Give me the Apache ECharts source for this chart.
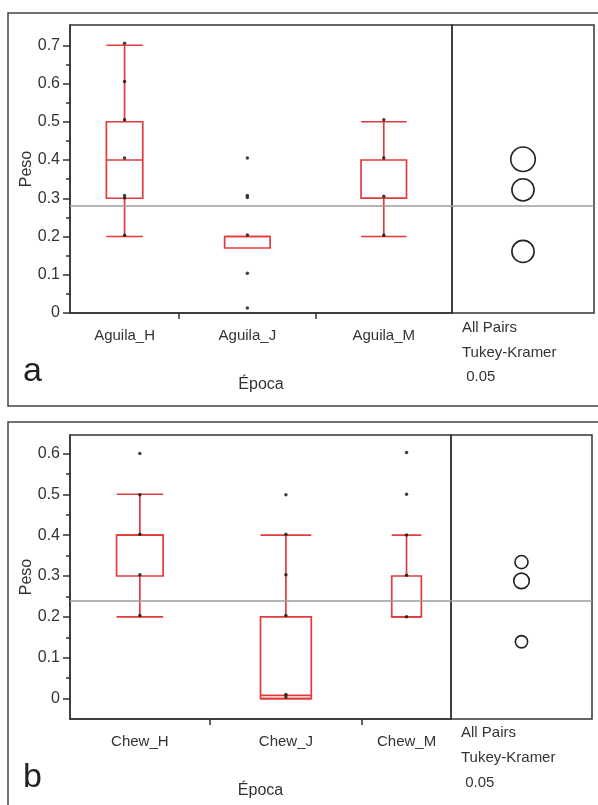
<!DOCTYPE html>
<html><head><meta charset="utf-8">
<script src="https://cdn.jsdelivr.net/npm/echarts@6/dist/echarts.min.js"></script>
<style>html,body{margin:0;padding:0;background:#fff}#c{width:598px;height:805px}</style>
</head><body><div id="c"></div>
<script>
// ---------- Panel a ----------
const catsA = ['Aguila_H', 'Aguila_J', 'Aguila_M'];
const nA = [8, 10, 10];                       // group sizes (JMP proportional x axis)
// [low whisker, Q1, median, Q3, high whisker]
const boxA = [
  [0.2, 0.3, 0.4, 0.5, 0.7],
  [0.17, 0.17, 0.2, 0.2, 0.2],
  [0.2, 0.3, 0.3, 0.4, 0.5]
];
const ptsA = [
  [0.705, 0.605, 0.505, 0.405, 0.307, 0.301, 0.203],
  [0.405, 0.307, 0.302, 0.204, 0.104, 0.013],
  [0.505, 0.405, 0.305, 0.203]
];
const meansA = [0.402, 0.161, 0.322];
const radiiA = [0.032, 0.029, 0.029];
const grandMeanA = 0.285;
const yTicksA = [0, 0.1, 0.2, 0.3, 0.4, 0.5, 0.6, 0.7];
const yMinorA = [0.05, 0.15, 0.25, 0.35, 0.45, 0.55, 0.65];

// ---------- Panel b ----------
const catsB = ['Chew_H', 'Chew_J', 'Chew_M'];
const nB = [11, 12, 7];
const boxB = [
  [0.2, 0.3, 0.4, 0.4, 0.5],
  [0, 0, 0.008, 0.2, 0.4],
  [0.2, 0.2, 0.2, 0.3, 0.4]
];
const ptsB = [
  [0.6, 0.499, 0.402, 0.303, 0.203],
  [0.499, 0.402, 0.303, 0.203, 0.01, 0.004],
  [0.602, 0.5, 0.4, 0.302, 0.2]
];
const meansB = [0.334, 0.139, 0.288];
const radiiB = [0.016, 0.015, 0.019];
const grandMeanB = 0.242;
const yTicksB = [0, 0.1, 0.2, 0.3, 0.4, 0.5, 0.6];
const yMinorB = [0.05, 0.15, 0.25, 0.35, 0.45, 0.55];

const xTitle = 'Época';
const yTitle = 'Peso';
const sideText = ['All Pairs', 'Tukey-Kramer', ' 0.05'];

// ---------- layout / styles ----------
const FONT = '"Liberation Sans", Arial, sans-serif';
const RED = '#e23b3b';
const INK = '#333';
const LAYOUT = [
  {left: 70, top: 25, w: 382, h: 288, rw: 142, yMin: 0, yMax: 0.753,
   frame: [8, 13, 620, 393], letterY: 372, textX: 462, textY: [328, 353, 377]},
  {left: 70, top: 435, w: 381, h: 284, rw: 141, yMin: -0.05, yMax: 0.645,
   frame: [8, 422, 620, 420], letterY: 778, textX: 461, textY: [733, 758, 783]}
];
const PANELS = [
  {cats: catsA, n: nA, box: boxA, pts: ptsA, means: meansA, radii: radiiA, gm: grandMeanA, yt: yTicksA, ym: yMinorA, letter: 'a'},
  {cats: catsB, n: nB, box: boxB, pts: ptsB, means: meansB, radii: radiiB, gm: grandMeanB, yt: yTicksB, ym: yMinorB, letter: 'b'}
];

function boxRender(params, api) {
  const xv = api.value(0);
  const w = api.size([api.value(6), 0])[0];
  const px = api.coord([xv, 0])[0];
  const y = k => api.coord([xv, api.value(k)])[1];
  const lo = api.value(1), q1 = api.value(2), q3 = api.value(4), hi = api.value(5);
  const yLo = y(1), yQ1 = y(2), yMed = y(3), yQ3 = y(4), yHi = y(5);
  const l = px - w / 2, r = px + w / 2;
  const st = {stroke: RED, lineWidth: 1.7, fill: null};
  const ch = [
    {type: 'rect', shape: {x: l, y: yQ3, width: w, height: yQ1 - yQ3}, style: st},
    {type: 'line', shape: {x1: l, y1: yMed, x2: r, y2: yMed}, style: st}
  ];
  if (hi > q3) {
    ch.push({type: 'line', shape: {x1: px, y1: yQ3, x2: px, y2: yHi}, style: st});
    ch.push({type: 'line', shape: {x1: l, y1: yHi, x2: r, y2: yHi}, style: st});
  }
  if (lo < q1 || lo === 0) {
    ch.push({type: 'line', shape: {x1: px, y1: yQ1, x2: px, y2: yLo}, style: st});
    ch.push({type: 'line', shape: {x1: l, y1: yLo, x2: r, y2: yLo}, style: st});
  }
  return {type: 'group', children: ch};
}
function circleRender(params, api) {
  const c = api.coord([api.value(0), api.value(1)]);
  const r = api.size([0, api.value(2)])[1];
  return {type: 'circle', shape: {cx: c[0], cy: c[1], r: r}, style: {stroke: '#222', lineWidth: 1.6, fill: null}};
}

const option = {animation: false, grid: [], xAxis: [], yAxis: [], series: [], graphic: []};
const axisLineStyle = {color: INK, width: 1.5};

PANELS.forEach((p, i) => {
  const L = LAYOUT[i];
  const g0 = option.grid.length;
  option.grid.push({left: L.left, top: L.top, width: L.w, height: L.h, show: true, borderColor: INK, borderWidth: 1.5});
  option.grid.push({left: L.left + L.w, top: L.top, width: L.rw, height: L.h, show: true, borderColor: INK, borderWidth: 1.5});

  const edges = [0];
  p.n.forEach(v => edges.push(edges[edges.length - 1] + v));
  const total = edges[edges.length - 1];
  const centers = p.n.map((v, k) => edges[k] + v / 2);

  const xi = option.xAxis.length;
  option.xAxis.push({
    gridIndex: g0, type: 'value', min: 0, max: total, splitLine: {show: false},
    axisLine: {show: true, onZero: false, lineStyle: axisLineStyle},
    axisTick: {show: true, customValues: edges.slice(1, -1), length: 6, lineStyle: axisLineStyle},
    axisLabel: {customValues: centers, margin: 15, fontSize: 15, color: INK, fontFamily: FONT,
      formatter: v => { const k = centers.findIndex(c => Math.abs(c - v) < 1e-6); return k >= 0 ? p.cats[k] : ''; }},
    name: xTitle, nameLocation: 'middle', nameGap: 64, nameMoveOverlap: false,
    nameTextStyle: {fontSize: 16, color: INK, fontFamily: FONT}
  });
  option.xAxis.push({gridIndex: g0 + 1, type: 'value', min: 0, max: 1, show: false});

  const yi = option.yAxis.length;
  option.yAxis.push({
    gridIndex: g0, type: 'value', min: L.yMin, max: L.yMax, position: 'left', splitLine: {show: false},
    axisLine: {show: true, onZero: false, lineStyle: axisLineStyle},
    axisTick: {show: true, customValues: p.yt, length: 7, lineStyle: axisLineStyle},
    axisLabel: {customValues: p.yt, margin: 10, fontSize: 16, color: INK, fontFamily: FONT,
      formatter: v => (Math.abs(v) < 1e-9 ? '0' : v.toFixed(1))},
    name: yTitle, nameLocation: 'middle', nameGap: 35, nameMoveOverlap: false,
    nameTextStyle: {fontSize: 16, color: INK, fontFamily: FONT}
  });
  option.yAxis.push({
    gridIndex: g0, type: 'value', min: L.yMin, max: L.yMax, position: 'left', offset: 0, splitLine: {show: false},
    axisLine: {show: false}, axisLabel: {show: false},
    axisTick: {show: true, customValues: p.ym, length: 4, lineStyle: axisLineStyle}
  });
  option.yAxis.push({gridIndex: g0 + 1, type: 'value', min: L.yMin, max: L.yMax, show: false});

  const ml = {symbol: ['none', 'none'], silent: true, label: {show: false},
    lineStyle: {color: '#9c9c9c', width: 1.5, type: 'solid'}, emphasis: {disabled: true},
    data: [{yAxis: p.gm}]};

  option.series.push({
    type: 'custom', xAxisIndex: xi, yAxisIndex: yi, silent: true, clip: false,
    data: p.box.map((b, k) => [centers[k], b[0], b[1], b[2], b[3], b[4], p.n[k] / 3]),
    renderItem: boxRender, z: 3
  });
  option.series.push({
    type: 'scatter', xAxisIndex: xi, yAxisIndex: yi, silent: true, symbol: 'circle', symbolSize: 3.5,
    itemStyle: {color: '#111'}, z: 4,
    data: p.pts.flatMap((arr, k) => arr.map(v => [centers[k], v])),
    markLine: ml
  });
  option.series.push({
    type: 'custom', xAxisIndex: xi + 1, yAxisIndex: yi + 2, silent: true,
    data: p.means.map((m, k) => [0.5, m, p.radii[k]]), renderItem: circleRender, z: 3
  });
  option.series.push({
    type: 'scatter', xAxisIndex: xi + 1, yAxisIndex: yi + 2, silent: true, symbolSize: 0,
    data: [[0.5, p.gm]], markLine: ml
  });

  const f = L.frame;
  option.graphic.push({type: 'rect', shape: {x: f[0], y: f[1], width: f[2], height: f[3]},
    style: {fill: null, stroke: '#444', lineWidth: 1.5}, silent: true});
  option.graphic.push({type: 'text', x: 23, y: L.letterY,
    style: {text: p.letter, font: '34px ' + FONT, fill: '#222', verticalAlign: 'middle', align: 'left'}, silent: true});
  sideText.forEach((t, k) => {
    option.graphic.push({type: 'text', x: L.textX, y: L.textY[k],
      style: {text: t, font: '15px ' + FONT, fill: INK, verticalAlign: 'middle', align: 'left'}, silent: true});
  });
});

const chart = echarts.init(document.getElementById('c'), null, {renderer: 'canvas'});
chart.setOption(option);
</script>
</body></html>
